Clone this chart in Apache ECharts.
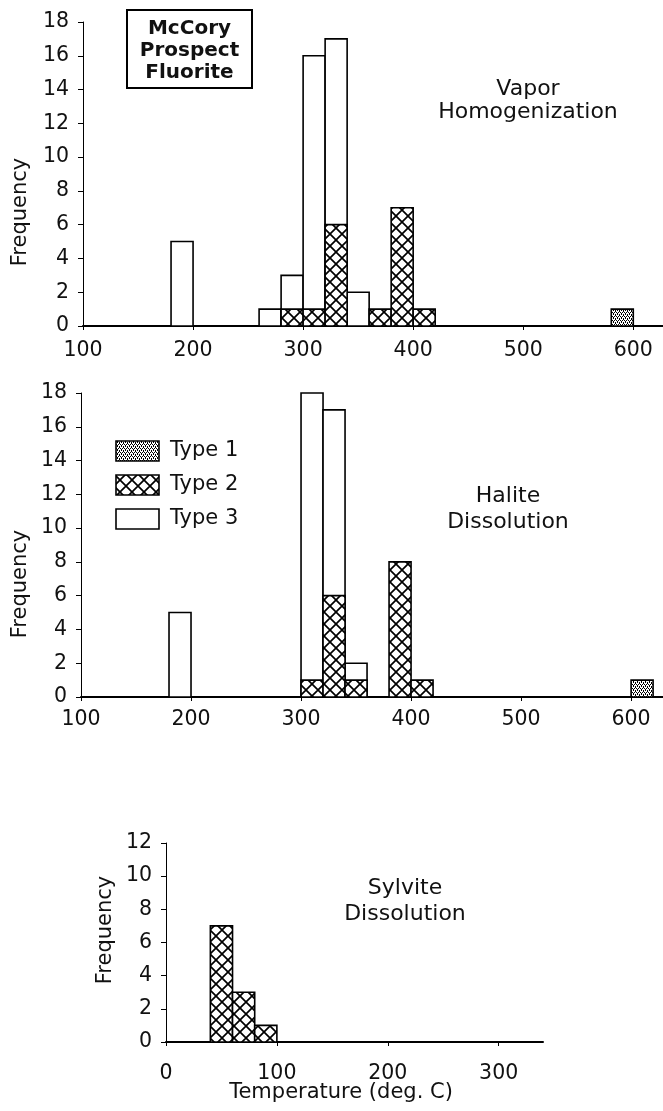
<!DOCTYPE html>
<html>
<head>
<meta charset="utf-8">
<script src="https://cdn.jsdelivr.net/npm/echarts@6/dist/echarts.min.js"></script>
<style>
html,body{margin:0;padding:0;background:#fff;}
#chart{width:663px;height:1111px;}
</style>
</head>
<body>
<div id="chart"></div>
<script>
// ---------- data (bin start temperature, frequency); bins are 20 deg wide ----------
const BIN_WIDTH = 20;
const xTicksMain = [100, 200, 300, 400, 500, 600];
const xTicksSylvite = [0, 100, 200, 300];

const vaporType1 = [[580, 1]];
const vaporType2 = [[280, 1], [300, 1], [320, 6], [360, 1], [380, 7], [400, 1]];
const vaporType3 = [[180, 5], [260, 1], [280, 3], [300, 16], [320, 17], [340, 2]];

const haliteType1 = [[600, 1]];
const haliteType2 = [[300, 1], [320, 6], [340, 1], [380, 8], [400, 1]];
const haliteType3 = [[180, 5], [300, 18], [320, 17], [340, 2]];

const sylviteType2 = [[40, 7], [60, 3], [80, 1]];

const legendLabels = ['Type 1', 'Type 2', 'Type 3'];

// ---------- fill patterns ----------
function crossHatch() {
  const s = 12, c = document.createElement('canvas');
  c.width = s; c.height = s;
  const g = c.getContext('2d');
  g.fillStyle = '#fff'; g.fillRect(0, 0, s, s);
  g.strokeStyle = '#000'; g.lineWidth = 1.7;
  g.beginPath();
  g.moveTo(-1, -1); g.lineTo(s + 1, s + 1);
  g.moveTo(s + 1, -1); g.lineTo(-1, s + 1);
  g.stroke();
  return {image: c, repeat: 'repeat'};
}
function stipple() {
  const s = 4, c = document.createElement('canvas');
  c.width = s; c.height = s;
  const g = c.getContext('2d');
  g.fillStyle = '#fff'; g.fillRect(0, 0, s, s);
  g.fillStyle = '#000';
  [[0,0],[2,0],[1,2],[3,2],[1,1],[3,3]].forEach(p => g.fillRect(p[0], p[1], 1, 1));
  return {image: c, repeat: 'repeat'};
}
const FILL1 = stipple();
const FILL2 = crossHatch();
const FILL3 = '#fff';

function barRenderer(fill) {
  return function (params, api) {
    const x0 = api.value(0), h = api.value(1);
    const pTop = api.coord([x0, h]);
    const pBot = api.coord([x0 + BIN_WIDTH, 0]);
    return {
      type: 'rect',
      shape: {x: pTop[0], y: pTop[1], width: pBot[0] - pTop[0], height: pBot[1] - pTop[1]},
      style: {fill: fill, stroke: '#000', lineWidth: 1.6}
    };
  };
}

const FONT = '"DejaVu Sans", "Liberation Sans", sans-serif';
const TXT = '#111';

function xAxisCfg(idx, min, max, ticks, margin) {
  return {
    type: 'value', gridIndex: idx, min: min, max: max,
    splitLine: {show: false},
    axisLine: {show: true, onZero: false, lineStyle: {color: '#000', width: 2}},
    axisTick: {show: true, inside: false, length: 4, customValues: ticks, lineStyle: {color: '#000', width: 1}},
    axisLabel: {show: true, customValues: ticks, margin: margin, fontFamily: FONT, fontSize: 20.5, color: TXT}
  };
}
function yAxisCfg(idx, max) {
  return {
    type: 'value', gridIndex: idx, min: 0, max: max, interval: 2,
    splitLine: {show: false},
    axisLine: {show: true, lineStyle: {color: '#000', width: 1}},
    axisTick: {show: true, inside: false, length: 5, lineStyle: {color: '#000', width: 1}},
    axisLabel: {show: true, margin: 14, fontFamily: FONT, fontSize: 20.5, color: TXT}
  };
}
function series(idx, data, fill, name) {
  return {
    type: 'custom', name: name, xAxisIndex: idx, yAxisIndex: idx,
    renderItem: barRenderer(fill), encode: {x: 0, y: 1}, data: data, silent: true
  };
}
function label(x, y, text, opts) {
  return Object.assign({
    type: 'text', x: x, y: y, silent: true,
    style: Object.assign({
      text: text, fill: TXT, font: '21px ' + FONT,
      textAlign: 'center', textVerticalAlign: 'middle', align: 'center', verticalAlign: 'middle'
    }, (opts && opts.style) || {})
  }, (opts && opts.el) || {});
}

const graphics = [
  // title box
  {type: 'rect', shape: {x: 127, y: 10, width: 125, height: 78}, style: {fill: '#fff', stroke: '#000', lineWidth: 2}, silent: true},
  label(189.5, 29, 'McCory', {style: {font: 'bold 20px ' + FONT}}),
  label(189.5, 51, 'Prospect', {style: {font: 'bold 20px ' + FONT}}),
  label(189.5, 73, 'Fluorite', {style: {font: 'bold 20px ' + FONT}}),
  // panel annotations
  label(528, 89, 'Vapor', {style: {font: '22px ' + FONT}}),
  label(528, 112, 'Homogenization', {style: {font: '22px ' + FONT}}),
  label(508, 496, 'Halite', {style: {font: '22px ' + FONT}}),
  label(508, 522, 'Dissolution', {style: {font: '22px ' + FONT}}),
  label(405, 888, 'Sylvite', {style: {font: '22px ' + FONT}}),
  label(405, 914, 'Dissolution', {style: {font: '22px ' + FONT}}),
  // axis titles
  label(21, 212, 'Frequency', {el: {rotation: Math.PI / 2}}),
  label(21, 584, 'Frequency', {el: {rotation: Math.PI / 2}}),
  label(106, 930, 'Frequency', {el: {rotation: Math.PI / 2}}),
  label(341, 1093, 'Temperature (deg. C)')
];
// legend
const legendFills = [FILL1, FILL2, FILL3];
legendLabels.forEach((t, i) => {
  const cy = 451 + i * 34;
  graphics.push({type: 'rect', shape: {x: 116, y: cy - 10, width: 43, height: 20}, style: {fill: legendFills[i], stroke: '#000', lineWidth: 1.6}, silent: true});
  graphics.push(label(170, cy, t, {style: {textAlign: 'left', align: 'left', font: '21px ' + FONT}}));
});

const option = {
  backgroundColor: '#fff',
  animation: false,
  grid: [
    {left: 83, top: 22, width: 580, height: 304},
    {left: 81, top: 393, width: 582, height: 304},
    {left: 166, top: 843, width: 377, height: 199}
  ],
  xAxis: [
    xAxisCfg(0, 100, 627, xTicksMain, 14),
    xAxisCfg(1, 100, 629, xTicksMain, 12),
    xAxisCfg(2, 0, 340, xTicksSylvite, 21)
  ],
  yAxis: [yAxisCfg(0, 18), yAxisCfg(1, 18), yAxisCfg(2, 12)],
  series: [
    series(0, vaporType3, FILL3, 'Type 3'),
    series(0, vaporType2, FILL2, 'Type 2'),
    series(0, vaporType1, FILL1, 'Type 1'),
    series(1, haliteType3, FILL3, 'Type 3'),
    series(1, haliteType2, FILL2, 'Type 2'),
    series(1, haliteType1, FILL1, 'Type 1'),
    series(2, sylviteType2, FILL2, 'Type 2')
  ],
  graphic: graphics
};

const chart = echarts.init(document.getElementById('chart'), null, {renderer: 'canvas'});
chart.setOption(option);
</script>
</body>
</html>
